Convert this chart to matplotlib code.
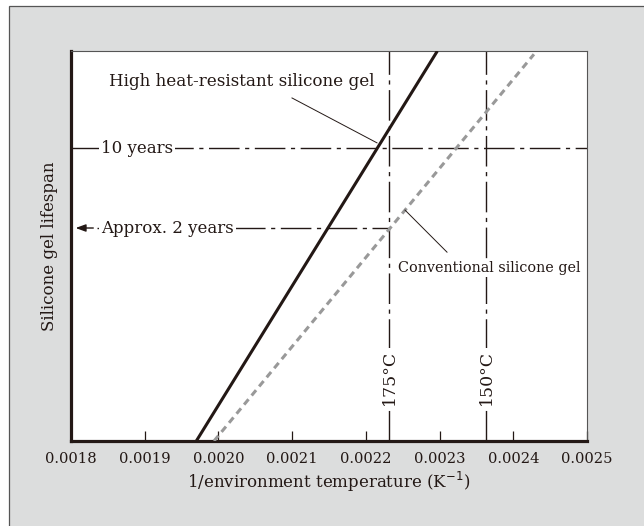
import numpy as np
import matplotlib; matplotlib.use('Agg'); import matplotlib.pyplot as plt
from matplotlib.patches import Rectangle

plt.rcParams['font.family'] = 'DejaVu Serif'
plt.rcParams['lines.scale_dashes'] = False

INK = '#231815'
BG = '#dcdddd'

# axis range: 1/T (K^-1) and lifespan in years (log scale, no ticks shown)
x_ticks = [0.0018, 0.0019, 0.0020, 0.0021, 0.0022, 0.0023, 0.0024, 0.0025]
life_lim = (0.0275, 70.5)

# lifespan lines (1/T, years)
hr_x = [0.001970, 0.002297]
hr_life = [0.0275, 70.5]
conv_x = [0.001994, 0.002428]
conv_life = [0.0275, 66.0]

# reference levels
temps_c = [175, 150]
life_refs = [10, 2]

fig = plt.figure(figsize=(6.44, 5.26), dpi=100, facecolor='white')
fig.patches.append(Rectangle((9/644, -0.1), 1.2, (526-6)/526 + 0.1, transform=fig.transFigure,
                             facecolor=BG, edgecolor='#555555', lw=0.9, zorder=-10))
ax = fig.add_axes([71/644, (526-441)/526, 516/644, 390/526])
ax.set_facecolor('white')
ax.set_yscale('log')
ax.set_xlim(x_ticks[0], x_ticks[-1])
ax.set_ylim(*life_lim)

for s in ['left', 'bottom']:
    ax.spines[s].set_linewidth(2.3); ax.spines[s].set_color(INK)
for s in ['top', 'right']:
    ax.spines[s].set_linewidth(0.8); ax.spines[s].set_color('#555555')

ax.set_xticks(x_ticks)
ax.set_xticklabels([f'{t:.4f}' for t in x_ticks], fontsize=10.6, color=INK)
ax.tick_params(axis='x', direction='in', length=7, width=0.9, color=INK, pad=8)
ax.set_yticks([])
ax.yaxis.set_minor_locator(matplotlib.ticker.NullLocator())
ax.set_xlabel('1/environment temperature (K$^{-1}$)', fontsize=12, color=INK, labelpad=3)
ax.set_ylabel('Silicone gel lifespan', fontsize=12, color=INK, labelpad=9)

dashdot = (0, (22, 4, 3, 4))

# temperature guides
for t in temps_c:
    xv = 1/(t + 273.15)
    ax.plot([xv, xv], life_lim, color=INK, lw=1.0, ls=dashdot, zorder=2)
    ax.text(xv, 0.0995, f'{t}°C', rotation=90, ha='center', va='center', fontsize=12.5,
            color=INK, bbox=dict(fc='white', ec='none', pad=1), zorder=4)

# 10 years line
ax.plot([x_ticks[0], x_ticks[-1]], [life_refs[0]]*2, color=INK, lw=1.0, ls=dashdot, zorder=2)
ax.text(0.0018407, life_refs[0], '10 years', ha='left', va='center', fontsize=12,
        color=INK, bbox=dict(fc='white', ec='none', pad=1.5), zorder=4)

# approx. 2 years line, up to 175 degC
x175 = 1/(temps_c[0] + 273.15)
ax.plot([0.0018355, x175], [life_refs[1]]*2, color=INK, lw=1.0, ls=dashdot, zorder=2)
ax.text(0.0018407, life_refs[1], 'Approx. 2 years', ha='left', va='center', fontsize=12,
        color=INK, bbox=dict(fc='white', ec='none', pad=1.5), zorder=4)
ax.annotate('', xy=(0.0018025, life_refs[1]), xytext=(0.0018340, life_refs[1]),
            arrowprops=dict(arrowstyle='-|>,head_length=0.6,head_width=0.22', color=INK, lw=1.0),
            zorder=5)

# lifespan lines
ax.plot(hr_x, hr_life, color=INK, lw=2.2, solid_capstyle='butt', zorder=3)
ax.plot(conv_x, conv_life, color='#999999', lw=2.2, ls=(0, (5, 3.5)), zorder=3)

# callouts
ax.text(0.0018516, 37.8, 'High heat-resistant silicone gel', ha='left', va='center',
        fontsize=12.1, color=INK, bbox=dict(fc='white', ec='none', pad=1), zorder=4)
ax.plot([0.0020998, 0.0022151], [27.4, 11.1], color=INK, lw=0.7, zorder=3)
ax.text(0.0022436, 0.893, 'Conventional silicone gel', ha='left', va='center',
        fontsize=10.4, color=INK, bbox=dict(fc='white', ec='none', pad=1), zorder=4)
ax.plot([0.0022531, 0.0023101], [2.87, 1.23], color=INK, lw=0.7, zorder=3)

plt.savefig('out.png', dpi=100, facecolor=fig.get_facecolor())
